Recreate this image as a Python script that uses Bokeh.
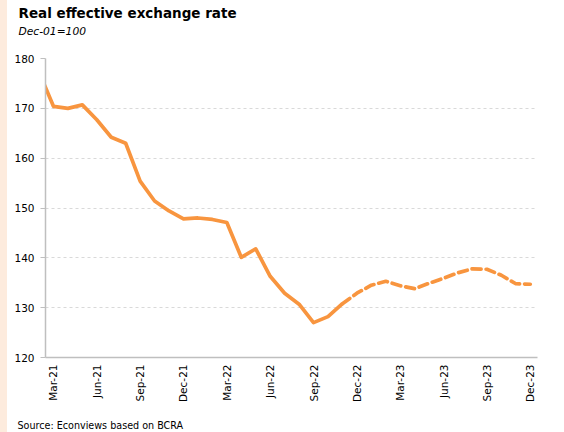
import math
from bokeh.plotting import figure
from bokeh.models import Range1d, FixedTicker, Title, Div
from bokeh.layouts import row
from bokeh.embed import file_html
from bokeh.resources import INLINE

# ---- data ----
actual_months = ["Feb-21", "Mar-21", "Apr-21", "May-21", "Jun-21", "Jul-21", "Aug-21",
                 "Sep-21", "Oct-21", "Nov-21", "Dec-21", "Jan-22", "Feb-22", "Mar-22",
                 "Apr-22", "May-22", "Jun-22", "Jul-22", "Aug-22", "Sep-22", "Oct-22", "Nov-22"]
actual_values = [177.3, 170.4, 170.0, 170.7, 167.7, 164.2, 163.0,
                 155.4, 151.4, 149.4, 147.8, 148.0, 147.7, 147.1,
                 140.1, 141.8, 136.3, 132.9, 130.7, 127.0, 128.2, 130.8]

proj_months = ["Nov-22", "Dec-22", "Jan-23", "Feb-23", "Mar-23", "Apr-23", "May-23",
               "Jun-23", "Jul-23", "Aug-23", "Sep-23", "Oct-23", "Nov-23", "Dec-23"]
proj_values = [130.8, 132.9, 134.5, 135.3, 134.4, 133.8, 134.9,
               135.9, 137.0, 137.8, 137.7, 136.5, 134.8, 134.7]

tick_labels = ["Mar-21", "Jun-21", "Sep-21", "Dec-21", "Mar-22", "Jun-22",
               "Sep-22", "Dec-22", "Mar-23", "Jun-23", "Sep-23", "Dec-23"]
y_ticks = [120, 130, 140, 150, 160, 170, 180]

title_text = "Real effective exchange rate"
subtitle_text = "Dec-01=100"
source_text = "Source: Econviews based on BCRA"

MON = {m: i for i, m in enumerate(["Jan", "Feb", "Mar", "Apr", "May", "Jun",
                                    "Jul", "Aug", "Sep", "Oct", "Nov", "Dec"])}

def month_index(lbl):
    m, y = lbl.split("-")
    return (int(y) - 21) * 12 + MON[m] - 2   # 0 = Mar-21

ax = [month_index(m) for m in actual_months]
px = [month_index(m) for m in proj_months]
tick_pos = [month_index(m) for m in tick_labels]

ORANGE = "#F8953F"
FONT = "DejaVu Sans"
STRIP = 7

p = figure(width=564 - STRIP, height=432, output_backend="svg", toolbar_location=None,
           x_range=Range1d(-0.55, 33.5), y_range=Range1d(120, 180), title=None)
p.min_border_left = 45 - STRIP
p.min_border_right = 27
p.min_border_top = 0
p.min_border_bottom = 0
p.outline_line_color = None
p.background_fill_color = "white"
p.border_fill_color = "white"

p.line(ax, actual_values, line_color=ORANGE, line_width=3.7, line_join="round")
p.line(px, proj_values, line_color=ORANGE, line_width=3.7, line_dash="9 5",
       line_join="round", line_cap="round")

# axes
p.xaxis.ticker = FixedTicker(ticks=tick_pos)
p.xaxis.major_label_overrides = {t: l for t, l in zip(tick_pos, tick_labels)}
p.xaxis.major_label_orientation = math.pi / 2
p.xaxis.major_tick_out = 0
p.xaxis.major_tick_in = 0
p.xaxis.minor_tick_line_color = None
p.xaxis.axis_line_color = "#BFBFBF"
p.xaxis.axis_line_width = 1.5
p.xaxis.major_label_standoff = 7
p.xaxis.major_label_text_font = FONT
p.xaxis.major_label_text_font_size = "10.5px"
p.xaxis.major_label_text_color = "black"

p.yaxis.ticker = FixedTicker(ticks=y_ticks)
p.yaxis.major_tick_out = 5
p.yaxis.major_tick_in = 0
p.yaxis.minor_tick_line_color = None
p.yaxis.axis_line_color = "#BFBFBF"
p.yaxis.axis_line_width = 1.5
p.yaxis.major_tick_line_color = "#BFBFBF"
p.yaxis.major_label_standoff = 6
p.yaxis.major_label_text_font = FONT
p.yaxis.major_label_text_font_size = "10.5px"
p.yaxis.major_label_text_color = "black"

p.xgrid.grid_line_color = None
p.ygrid.grid_line_color = "#D9D9D9"
p.ygrid.grid_line_dash = "3 3"
p.ygrid.grid_line_width = 1

# ---- titles: later "above"/"below" entries stack farther from the frame ----
# spacer between frame and subtitle
p.add_layout(Title(text=" ", text_font_size="1px", standoff=18), "above")
p.add_layout(Title(text=subtitle_text, align="left", offset=-27, text_font=FONT,
                   text_font_style="italic", text_font_size="10.7px",
                   text_color="black", standoff=0), "above")
p.add_layout(Title(text=title_text, align="left", offset=-27, text_font=FONT,
                   text_font_style="bold", text_font_size="13.5px",
                   text_color="black", standoff=4), "above")

# spacer between axis labels and source line
p.add_layout(Title(text=" ", text_font_size="1px", standoff=9), "below")
p.add_layout(Title(text=source_text, align="left", offset=-28, text_font=FONT,
                   text_font_style="normal", text_font_size="9.6px",
                   text_color="black", standoff=3), "below")

strip = Div(width=STRIP, height=432, margin=0,
            styles={"background-color": "#FDEBDD"})
layout = row(strip, p, spacing=0)

open("out.html", "w").write(file_html(layout, INLINE))
